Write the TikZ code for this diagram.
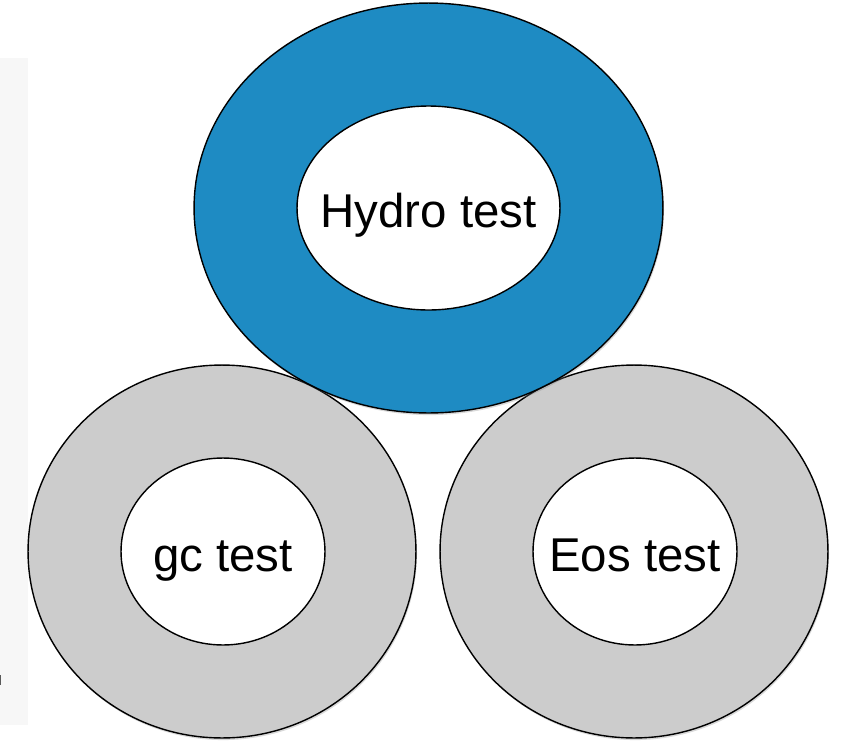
\documentclass[tikz,border=0pt]{standalone}
\usepackage{fontspec}
\setmainfont{Liberation Sans}
\usetikzlibrary{shapes.geometric, shadows, positioning}
\definecolor{RingB}{RGB}{30,139,195}
\definecolor{RingG}{RGB}{204,204,204}
\definecolor{PanelG}{RGB}{247,247,247}
\definecolor{TickG}{RGB}{90,90,90}

\begin{document}
\begin{tikzpicture}[x=0.02cm, y=-0.02cm,
  ring/.style={ellipse, draw=black, line width=0.8pt, inner sep=0pt,
               drop shadow={opacity=0.3, shadow xshift=0.6pt, shadow yshift=-1.2pt}},
  hole/.style={ellipse, draw=black, fill=white, line width=0.8pt, inner sep=0pt},
  lbl/.style={inner sep=0pt, anchor=base, font=\fontsize{27}{30}\selectfont, text=black},
  bigring/.style={ring, fill=RingB, minimum width=9.38cm, minimum height=8.2cm},
  smallring/.style={ring, fill=RingG, minimum width=7.76cm, minimum height=7.46cm},
  bighole/.style={hole, minimum width=5.26cm, minimum height=4.08cm},
  smallhole/.style={hole, minimum width=4.08cm, minimum height=3.74cm}
]
\useasboundingbox (0,0) rectangle (846,741);
% side panel
\fill[PanelG] (0,58) rectangle (28,725);
\draw[TickG, line width=0.8pt] (0.5,675) -- (0.5,685);

% bottom rings
\node[smallring] (gcOut) at (222,551.5) {};
\node[smallhole] (gcHole) at (223,551.5) {};
\node[lbl] (gc) at ([yshift=-0.39cm]gcHole.center) {gc test};
\node[smallring] (eosOut) at (634,551.5) {};
\node[smallhole] (eosHole) at (635,551.5) {};
\node[lbl] (eos) at ([yshift=-0.39cm]eosHole.center) {Eos test};

% top ring
\node[bigring] (hydroOut) at (428.5,208) {};
\node[bighole] (hydroHole) at (428.5,208) {};
\node[lbl] (hydro) at ([yshift=-0.38cm]hydroHole.center) {Hydro test};
\end{tikzpicture}
\end{document}
